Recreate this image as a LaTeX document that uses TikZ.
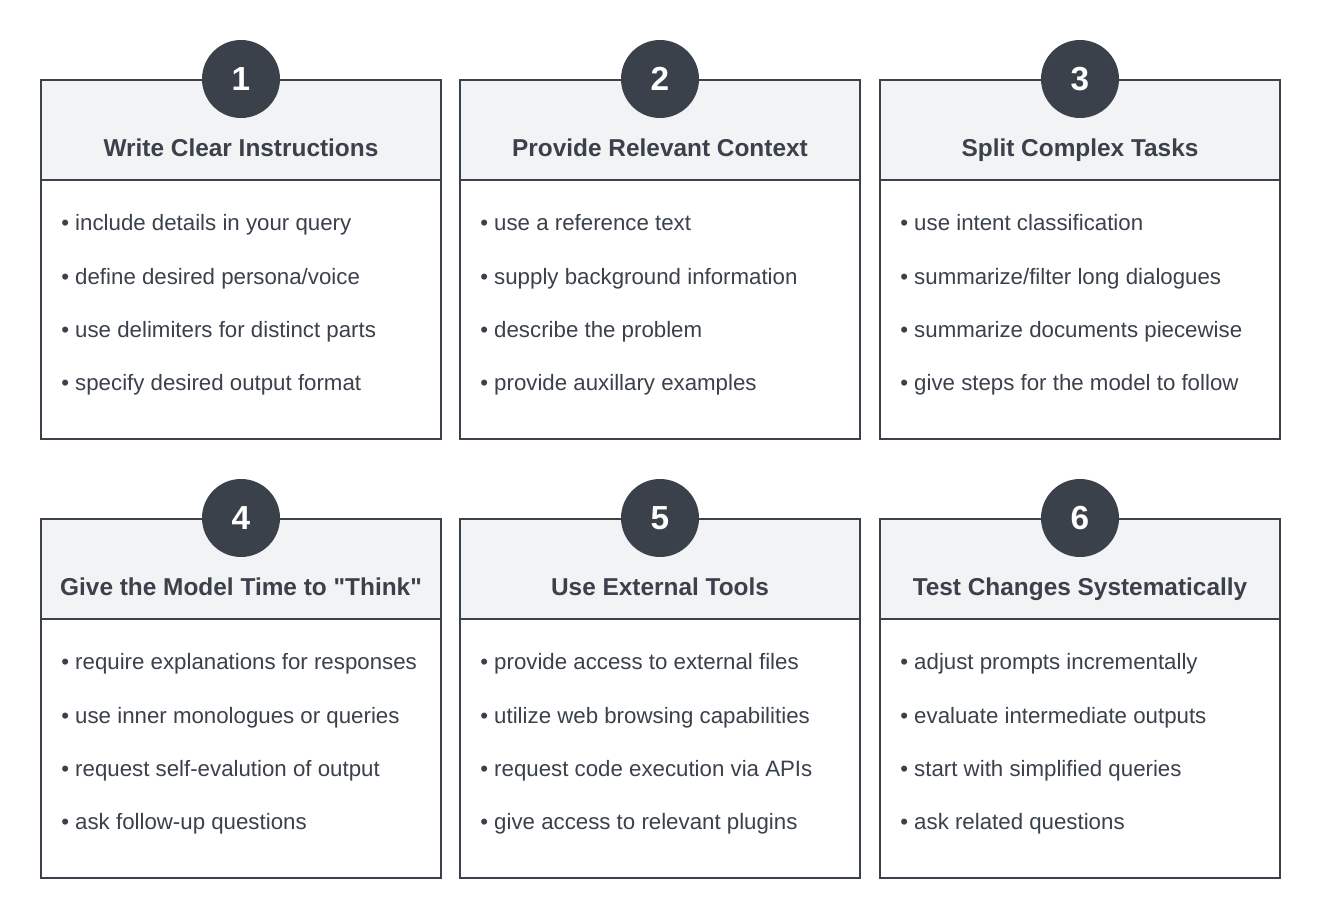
\documentclass[tikz,border=0pt]{standalone}
\usepackage{fontspec}
\setmainfont{Liberation Sans}[Ligatures=TeXOff]
\definecolor{dk}{HTML}{3A414B}
\definecolor{hd}{HTML}{F2F3F5}
\begin{document}
\begin{tikzpicture}[x=0.75pt,y=-0.75pt,
  boxframe/.style={draw=dk,line width=0.8pt},
  headfill/.style={fill=hd},
  numcirc/.style={circle,fill=dk,minimum size=58.5pt,inner sep=0pt,text=white,font=\fontsize{25}{30}\selectfont\bfseries},
  title/.style={text=dk,anchor=base,inner sep=0pt,font=\fontsize{18.3}{22}\selectfont\bfseries},
  item/.style={text=dk,anchor=base west,inner sep=0pt,font=\fontsize{16.7}{20}\selectfont}]
\useasboundingbox (0,0) rectangle (1320,917);
\fill[white] (0,0) rectangle (1320,917);
\newcommand\card[8]{% #1 x left, #2 y top, #3 number, #4 title, #5-#8 items
  \fill[headfill] (#1,#2) rectangle ++(400,100);
  \draw[boxframe] (#1,#2) rectangle ++(400,359);
  \draw[boxframe] (#1,#2+100) -- ++(400,0);
  \node[numcirc] (n#3) at (#1+200,#2-1) {#3};
  \node[title] (t#3) at (#1+200,#2+76) {#4};
  \node[item] (i#3a) at (#1+20,#2+150) {\textbullet\ #5};
  \node[item] (i#3b) at (#1+20,#2+204) {\textbullet\ #6};
  \node[item] (i#3c) at (#1+20,#2+257) {\textbullet\ #7};
  \node[item] (i#3d) at (#1+20,#2+310) {\textbullet\ #8};
}
\card{41}{80}{1}{Write Clear Instructions}{include details in your query}{define desired persona/voice}{use delimiters for distinct parts}{specify desired output format}
\card{460}{80}{2}{Provide Relevant Context}{use a reference text}{supply background information}{describe the problem}{provide auxillary examples}
\card{880}{80}{3}{Split Complex Tasks}{use intent classification}{summarize/filter long dialogues}{summarize documents piecewise}{give steps for the model to follow}
\card{41}{519}{4}{Give the Model Time to "Think"}{require explanations for responses}{use inner monologues or queries}{request self-evalution of output}{ask follow-up questions}
\card{460}{519}{5}{Use External Tools}{provide access to external files}{utilize web browsing capabilities}{request code execution via APIs}{give access to relevant plugins}
\card{880}{519}{6}{Test Changes Systematically}{adjust prompts incrementally}{evaluate intermediate outputs}{start with simplified queries}{ask related questions}
\end{tikzpicture}
\end{document}
